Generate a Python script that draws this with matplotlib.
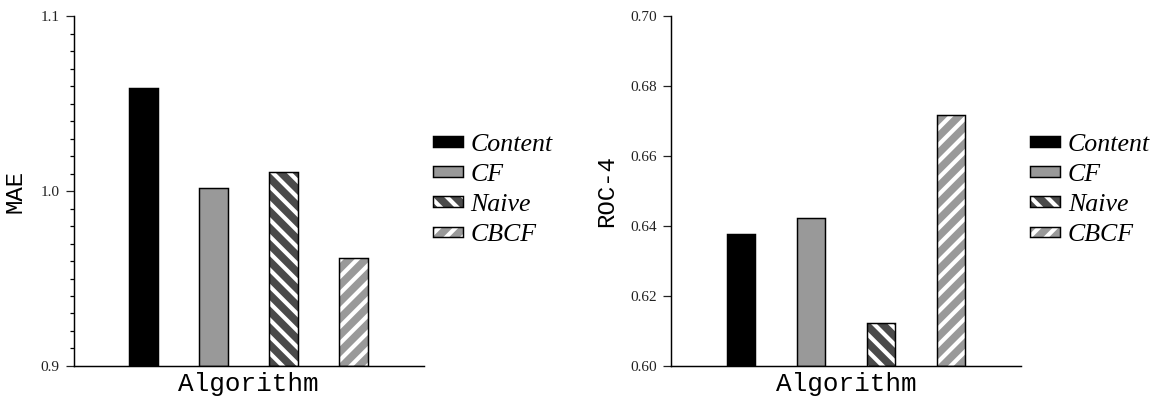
import numpy as np
import matplotlib
matplotlib.use("Agg")
import matplotlib.pyplot as plt
from matplotlib.ticker import MultipleLocator, FormatStrFormatter
from matplotlib.legend_handler import HandlerTuple

algos = ["Content", "CF", "Naive", "CBCF"]
mae = [1.059, 1.002, 1.011, 0.962]
roc4 = [0.6376, 0.6422, 0.6122, 0.6716]

fills = ["#000000", "#999999", "#4a4a4a", "#999999"]
hatches = [None, None, "\\\\\\", "///"]

DPI = 150
plt.rcParams["hatch.linewidth"] = 2.0
plt.rcParams["font.family"] = "Liberation Serif"

fig = plt.figure(figsize=(1151 / DPI, 401 / DPI), dpi=DPI)
W, H = 1151, 401
ax1 = fig.add_axes([73.5 / W, 35 / H, 350 / W, 350 / H])
ax2 = fig.add_axes([671 / W, 35 / H, 350 / W, 350 / H])


def draw(ax, vals, ylim, major, minor, fmt, ylabel, labx):
    x = np.arange(1, len(vals) + 1)
    handles = []
    for i, v in enumerate(vals):
        b1 = ax.bar(x[i], v - ylim[0], bottom=ylim[0], width=0.41,
                    color=fills[i], hatch=hatches[i], edgecolor="white",
                    lw=0, zorder=2)
        b2 = ax.bar(x[i], v - ylim[0], bottom=ylim[0], width=0.41,
                    fill=False, edgecolor="black", lw=0.7, zorder=3)
        handles.append((b1.patches[0], b2.patches[0]))
    ax.set_xlim(0, 5)
    ax.set_ylim(*ylim)
    ax.set_xticks([])
    ax.yaxis.set_major_locator(MultipleLocator(major))
    if minor:
        ax.yaxis.set_minor_locator(MultipleLocator(minor))
    ax.yaxis.set_major_formatter(FormatStrFormatter(fmt))
    ax.tick_params(axis="y", which="major", length=3.8, width=0.6,
                   labelsize=7.3, pad=2.8, colors="#222222")
    ax.tick_params(axis="y", which="minor", length=1.9, width=0.6)
    for sp in ("top", "right"):
        ax.spines[sp].set_visible(False)
    for sp in ("left", "bottom"):
        ax.spines[sp].set_linewidth(0.7)
    ax.set_xlabel("Algorithm", family="Liberation Mono", fontsize=12.5,
                  labelpad=3)
    ax.set_ylabel(ylabel, family="Liberation Mono", fontsize=11.5)
    ax.yaxis.set_label_coords(labx, 0.5)
    ax.legend(handles, algos, handler_map={tuple: HandlerTuple(ndivide=1)},
              loc="center left", bbox_to_anchor=(1.027, 0.503),
              frameon=False, borderpad=0, borderaxespad=0,
              handlelength=1.15, handleheight=0.27, handletextpad=0.3,
              labelspacing=0.32,
              prop={"family": "Liberation Serif", "style": "italic",
                    "size": 12.4})


draw(ax1, mae, (0.9, 1.1), 0.1, 0.01, "%.1f", "MAE", -0.133)
draw(ax2, roc4, (0.60, 0.70), 0.02, None, "%.2f", "ROC-4", -0.151)

fig.savefig("out.png", dpi=DPI)
